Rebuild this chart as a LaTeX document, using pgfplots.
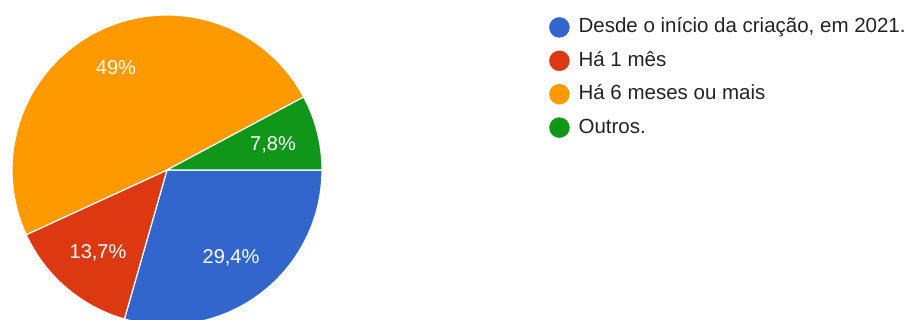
\documentclass[border=0pt]{standalone}
\usepackage{pgfplots}
\pgfplotsset{compat=1.18}
\usepackage{fontspec}
\setmainfont{Liberation Sans}
\definecolor{cblue}{HTML}{3366CC}
\definecolor{cred}{HTML}{DC3912}
\definecolor{corange}{HTML}{FF9900}
\definecolor{cgreen}{HTML}{109618}
\definecolor{ctext}{HTML}{222222}
% percentages (clockwise from 3 o'clock)
\def\vA{29.4}% Desde o inicio
\def\vB{13.7}% Ha 1 mes
\def\vC{49}%   Ha 6 meses ou mais
\def\vD{7.8}%  Outros
\begin{document}
\begin{tikzpicture}
\pgfmathsetmacro{\tot}{\vA+\vB+\vC+\vD}
\pgfmathsetmacro{\k}{360/\tot}
\pgfmathsetmacro{\aA}{-\k*\vA}
\pgfmathsetmacro{\aB}{-\k*(\vA+\vB)}
\pgfmathsetmacro{\aC}{-\k*(\vA+\vB+\vC)}
\begin{axis}[
  x=1pt, y=1pt, xmin=0, xmax=910, ymin=0, ymax=320,
  hide axis, clip=true,
  legend image code/.code={\fill[#1] (10pt,0pt) circle (10pt);},
  legend cell align=left,
  legend style={at={(axis cs:549,303)}, anchor=north west, draw=none, fill=none,
    inner sep=0pt, column sep=0pt, row sep=13pt,
    font=\fontsize{20.5}{24}\selectfont, text=ctext,
    nodes={inner sep=0pt, text height=15pt, text depth=4pt}},
  /tikz/every odd column/.append style={column sep=9pt},
]
\addplot[fill=cblue, draw=white, line width=1.2pt, domain=\aA:0, samples=80, variable=\t, forget plot]
  ({167+155*cos(\t)},{150+155*sin(\t)}) -- (axis cs:167,150) -- cycle;
\addplot[fill=cred, draw=white, line width=1.2pt, domain=\aB:\aA, samples=60, variable=\t, forget plot]
  ({167+155*cos(\t)},{150+155*sin(\t)}) -- (axis cs:167,150) -- cycle;
\addplot[fill=corange, draw=white, line width=1.2pt, domain=\aC:\aB, samples=120, variable=\t, forget plot]
  ({167+155*cos(\t)},{150+155*sin(\t)}) -- (axis cs:167,150) -- cycle;
\addplot[fill=cgreen, draw=white, line width=1.2pt, domain=-360:\aC, samples=40, variable=\t, forget plot]
  ({167+155*cos(\t)},{150+155*sin(\t)}) -- (axis cs:167,150) -- cycle;
\node[text=white, font=\fontsize{20}{24}\selectfont] at (axis cs:116,252) {49\%};
\node[text=white, font=\fontsize{20}{24}\selectfont] at (axis cs:273,175) {7,8\%};
\node[text=white, font=\fontsize{20}{24}\selectfont] at (axis cs:98,67.5) {13,7\%};
\node[text=white, font=\fontsize{20}{24}\selectfont] at (axis cs:231,62.5) {29,4\%};
\addlegendimage{cblue}
\addlegendentry{Desde o início da criação, em 2021.}
\addlegendimage{cred}
\addlegendentry{Há 1 mês}
\addlegendimage{corange}
\addlegendentry{Há 6 meses ou mais}
\addlegendimage{cgreen}
\addlegendentry{Outros.}
\end{axis}
\useasboundingbox (0,0) rectangle (910pt,320pt);
\end{tikzpicture}
\end{document}
